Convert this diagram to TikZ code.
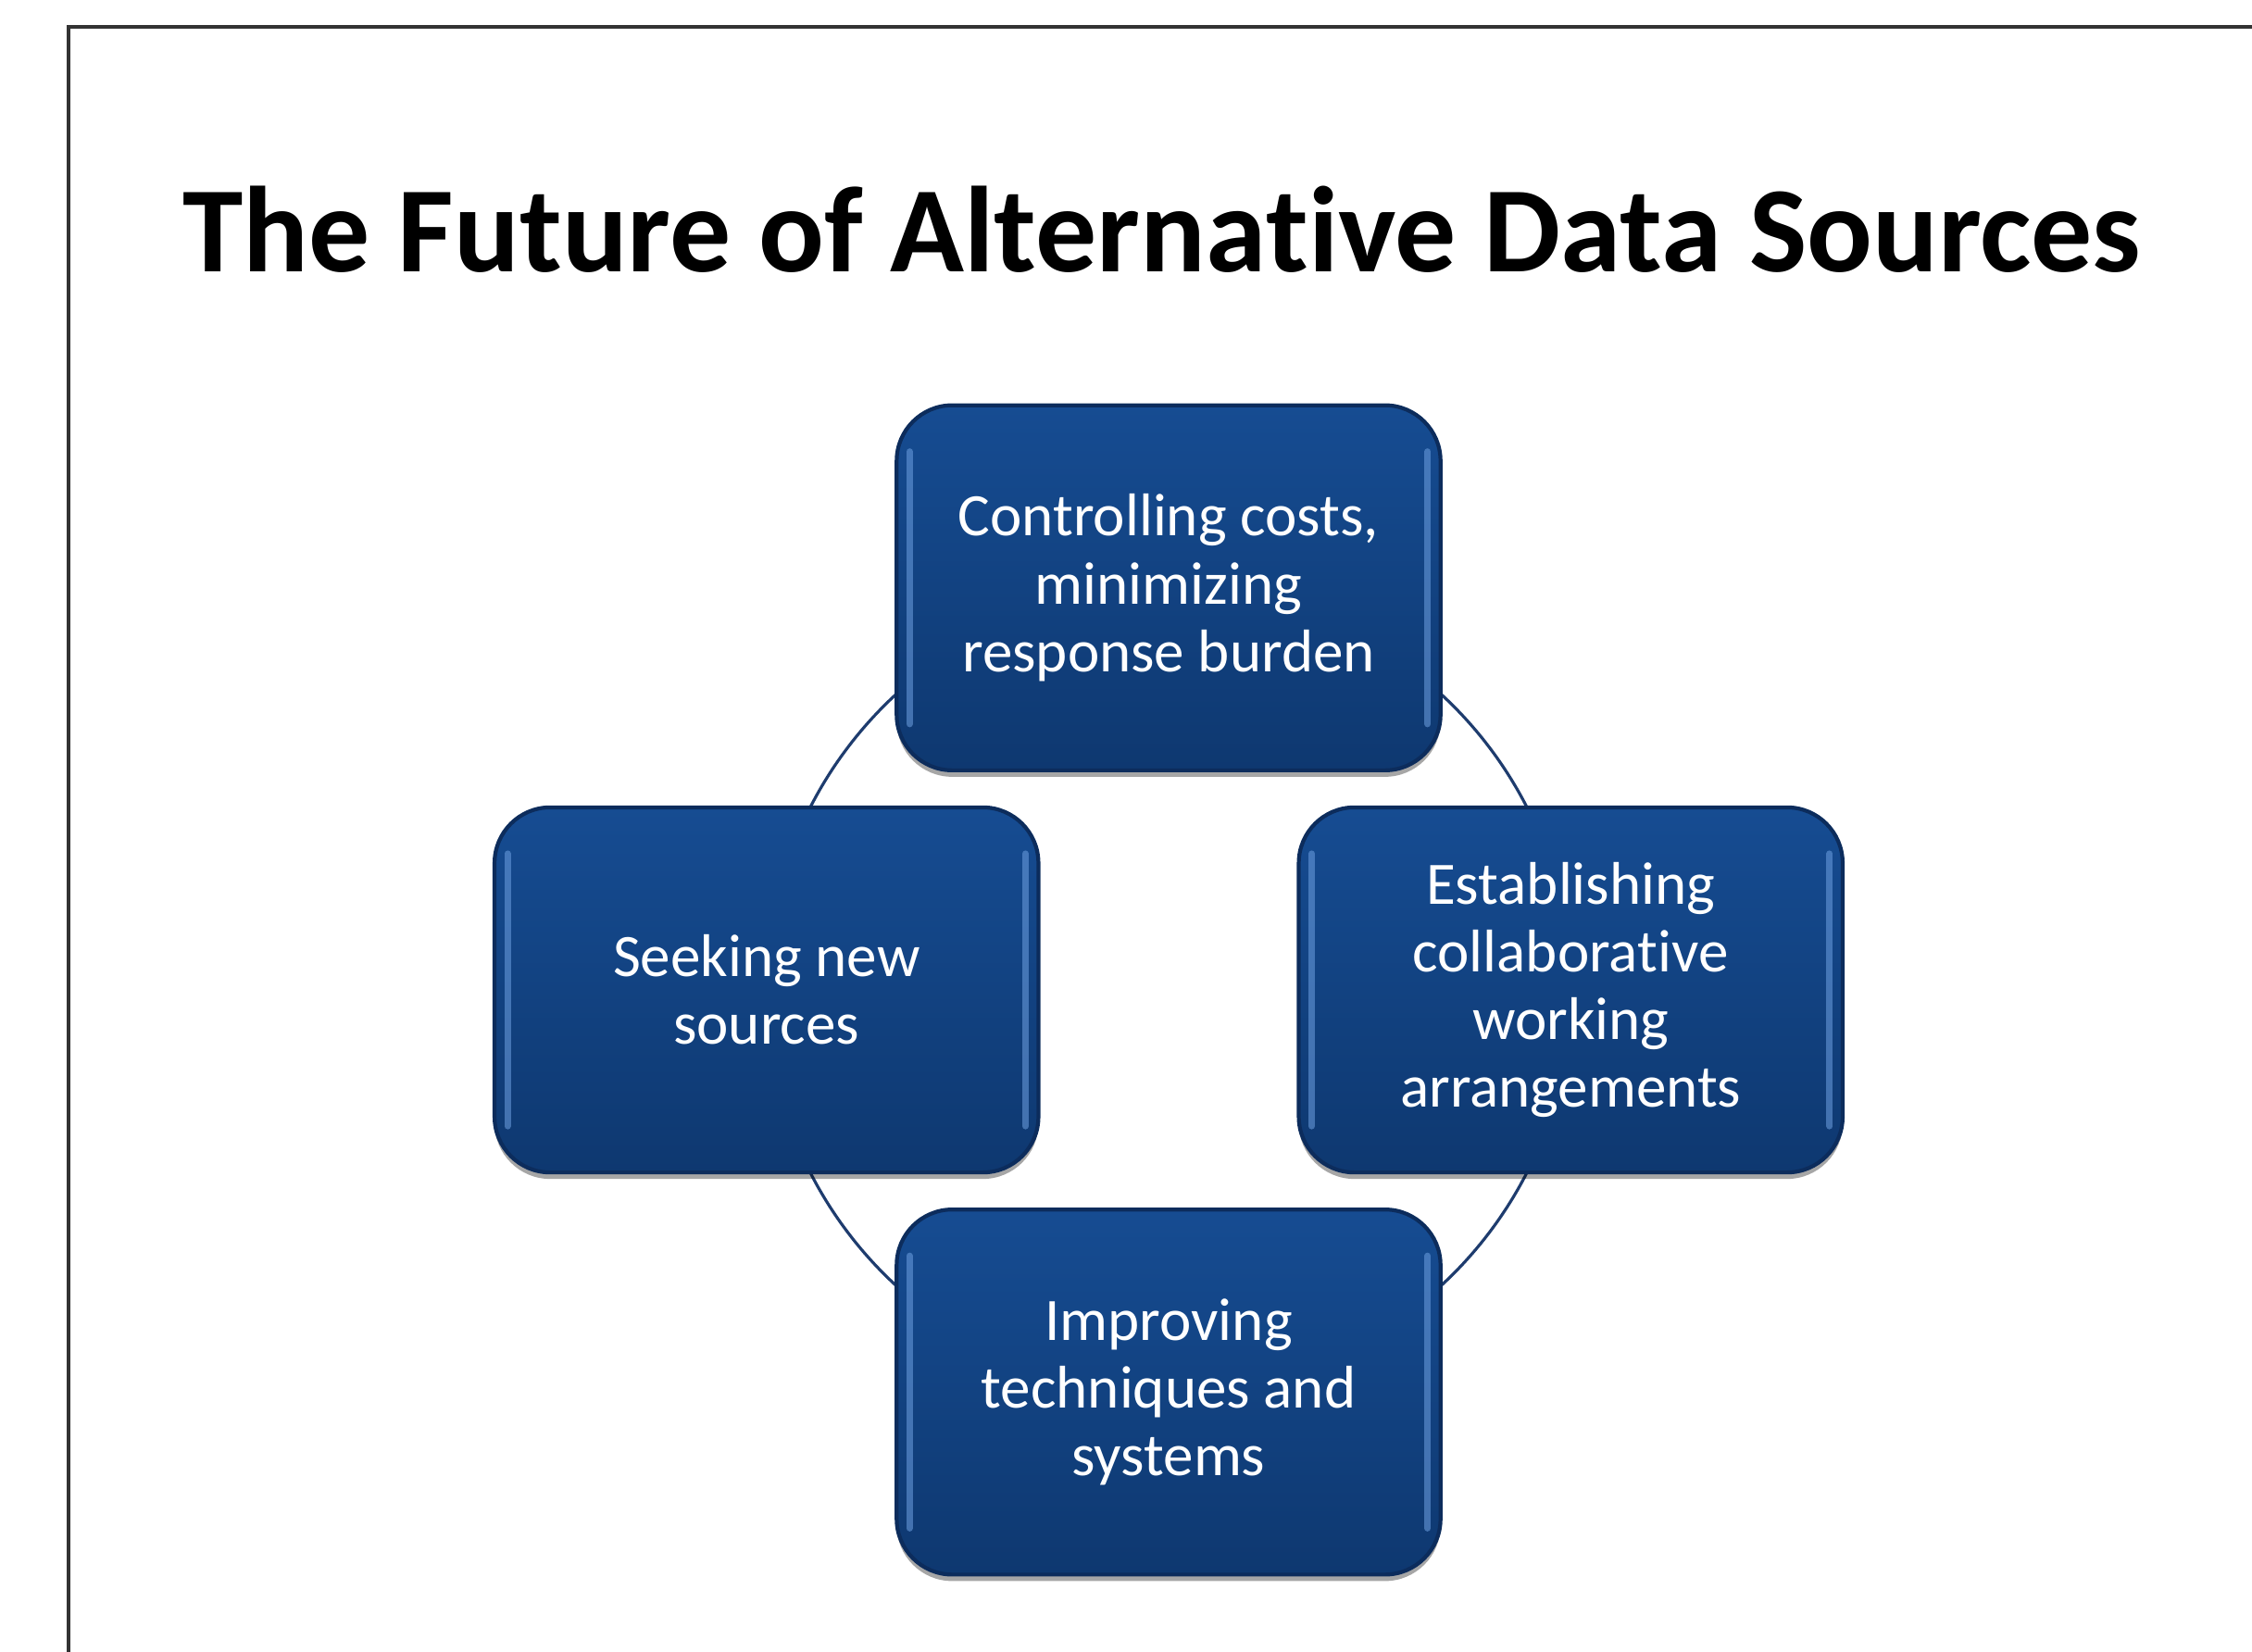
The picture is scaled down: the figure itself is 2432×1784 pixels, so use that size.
\documentclass[tikz,border=0pt]{standalone}
\usepackage{fontspec}
\setmainfont{Carlito}[Ligatures={NoCommon,NoContextual}]
\usetikzlibrary{positioning,shadows}
\definecolor{boxtop}{RGB}{22,76,146}
\definecolor{boxbot}{RGB}{14,56,112}
\definecolor{boxedge}{RGB}{12,44,92}
\definecolor{boxglow}{RGB}{110,160,225}
\definecolor{ringline}{RGB}{30,60,110}
\begin{document}
\begin{tikzpicture}[
  x=0.01cm, y=-0.01cm,
  block/.style={rectangle, rounded corners=0.6cm, minimum width=5.87cm, minimum height=3.94cm,
    draw=boxedge, line width=1.2pt, top color=boxtop, bottom color=boxbot,
    text=white, align=center, font=\fontsize{18.5}{20.8}\selectfont,
    drop shadow={shadow xshift=0pt, shadow yshift=-0.07cm, opacity=0.35, fill=black},
    path picture={
      \draw[boxglow, line width=2pt, opacity=0.55, line cap=round]
        ([xshift=0.14cm,yshift=0.5cm]path picture bounding box.south west) --
        ([xshift=0.14cm,yshift=-0.5cm]path picture bounding box.north west);
      \draw[boxglow, line width=2pt, opacity=0.55, line cap=round]
        ([xshift=-0.14cm,yshift=0.5cm]path picture bounding box.south east) --
        ([xshift=-0.14cm,yshift=-0.5cm]path picture bounding box.north east);}},
  ring/.style={draw=ringline, line width=0.9pt},
  node distance=4.34cm
]
\useasboundingbox (0,0) rectangle (2432,1784);
\draw[line width=1.3pt, black!80] (74,1784) |- (2432,29);

\node[anchor=base, font=\fontsize{37.5}{45}\selectfont\bfseries] (title) at (1255,293)
  {The Future of Alterna\kern0pt tive Data Sources};

\coordinate (hub) at (1262,1069);
\draw[ring] (hub) circle[radius=4.34cm];

\node[block, above of=hub] (costs) {Controlling costs,\\minimizing\\response burden};
\node[block, left of=hub] (seek) {Seeking new\\sources};
\node[block, right of=hub] (collab) {Establishing\\collabora\kern0pt tive\\working\\arrangements};
\node[block, below of=hub] (improve) {Improving\\techniques and\\systems};
\end{tikzpicture}
\end{document}
